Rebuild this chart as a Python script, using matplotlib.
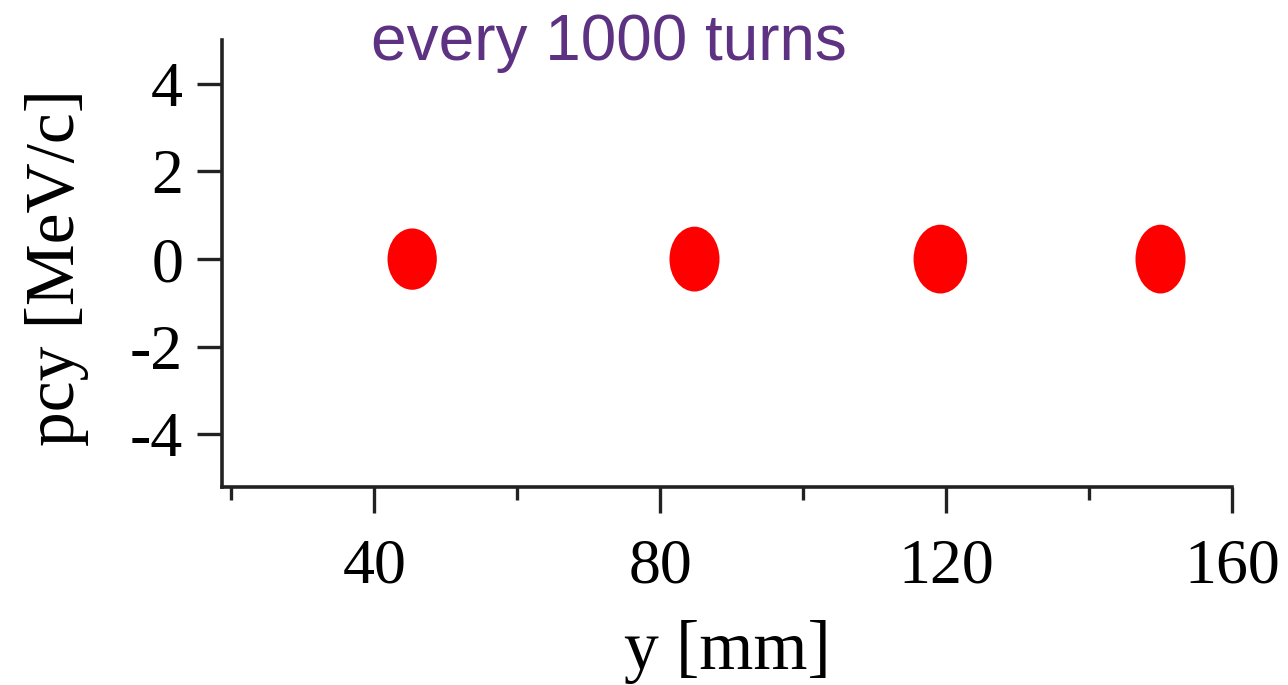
import matplotlib
matplotlib.use('Agg')
import matplotlib.pyplot as plt
from matplotlib.patches import Ellipse
from matplotlib.ticker import FixedLocator, FuncFormatter

# beam spots sampled every 1000 turns
spot_y = [45.3, 84.8, 119.2, 150.0]      # mm
spot_pcy = [0.0, 0.0, 0.0, 0.0]          # MeV/c
spot_width = [6.9, 7.0, 7.5, 7.0]        # mm
spot_height = [1.40, 1.48, 1.57, 1.57]   # MeV/c

x_major = [40, 80, 120, 160]
x_minor = [20, 60, 100, 140]
y_major = [-4, -2, 0, 2, 4]

plt.rcParams['axes.unicode_minus'] = False
serif = ['Liberation Serif', 'DejaVu Serif']
axis_col = '#222222'

fig = plt.figure(figsize=(12.88, 6.85), dpi=100)
fig.patch.set_facecolor('white')
ax = fig.add_axes([0.1724, 0.2891, 0.7841, 0.6525])

for cx, cy, w, h in zip(spot_y, spot_pcy, spot_width, spot_height):
    ax.add_patch(Ellipse((cx, cy), w, h, facecolor='#ff0000', edgecolor='none'))

ax.set_xlim(18.7, 160)
ax.set_ylim(-5.2, 5.0)

for side in ['top', 'right']:
    ax.spines[side].set_visible(False)
for side in ['left', 'bottom']:
    ax.spines[side].set_linewidth(2.6)
    ax.spines[side].set_color(axis_col)

ax.xaxis.set_major_locator(FixedLocator(x_major))
ax.xaxis.set_minor_locator(FixedLocator(x_minor))
ax.yaxis.set_major_locator(FixedLocator(y_major))
ax.yaxis.set_major_formatter(FuncFormatter(lambda v, p: '%d' % v))

ax.tick_params(axis='x', which='major', direction='out', length=19, width=2.4, color=axis_col, pad=18)
ax.tick_params(axis='x', which='minor', direction='out', length=9, width=2.4, color=axis_col)
ax.tick_params(axis='y', which='major', direction='out', length=18, width=2.4, color=axis_col, pad=10)

for lbl in ax.get_xticklabels() + ax.get_yticklabels():
    lbl.set_family(serif)
    lbl.set_fontsize(46)

ax.set_xlabel('y [mm]', family=serif, fontsize=50)
ax.set_ylabel('pcy [MeV/c]', family=serif, fontsize=50)
ax.xaxis.set_label_coords(0.5, -0.298)
ax.yaxis.set_label_coords(-0.132, 0.49)

fig.text(0.473, 0.912, 'every 1000 turns', ha='center', va='baseline',
         family=['Liberation Sans', 'DejaVu Sans'], fontsize=46, color='#5e3282')

plt.savefig('out.png', dpi=100, facecolor='white')
plt.close()
